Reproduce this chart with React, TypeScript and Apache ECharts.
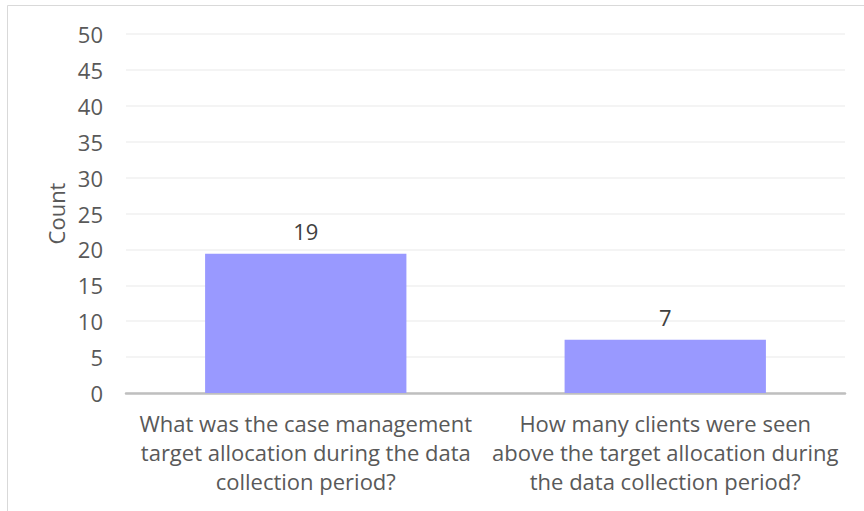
import React, { useEffect, useRef } from "react";
import * as echarts from "echarts";

const categories = [
  "What was the case management\ntarget allocation during the data\ncollection period?",
  "How many clients were seen\nabove the target allocation during\nthe data collection period?",
];
const counts = [19.4, 7.4];
const yTicks = { min: 0, max: 50, interval: 5 };
const axisTitle = "Count";

const FONT = "'Open Sans', 'Noto Sans', sans-serif";
const TEXT = "#595959";

export default function App() {
  const ref = useRef<HTMLDivElement>(null);
  useEffect(() => {
    if (!ref.current) return;
    const chart = echarts.init(ref.current, undefined, { renderer: "svg" });
    chart.setOption({
      animation: false,
      textStyle: { fontFamily: FONT },
      graphic: [
        {
          type: "rect",
          shape: { x: 7.5, y: 5.5, width: 900, height: 600 },
          style: { fill: "none", stroke: "#d9d9d9", lineWidth: 1 },
          silent: true,
        },
      ],
      grid: { left: 126, right: 19, top: 34, bottom: 118 },
      xAxis: {
        type: "category",
        data: categories,
        axisTick: { show: false },
        axisLine: { lineStyle: { color: "#bfbfbf", width: 2.5 } },
        axisLabel: {
          color: TEXT,
          fontSize: 22,
          lineHeight: 28.7,
          margin: 16,
          interval: 0,
          fontFamily: FONT,
        },
      },
      yAxis: {
        type: "value",
        min: yTicks.min,
        max: yTicks.max,
        interval: yTicks.interval,
        name: axisTitle,
        nameLocation: "middle",
        nameGap: 57,
        nameTextStyle: { color: TEXT, fontSize: 22, fontFamily: FONT },
        axisLine: { show: false },
        axisTick: { show: false },
        axisLabel: { color: TEXT, fontSize: 22, margin: 23, fontFamily: FONT },
        splitLine: { lineStyle: { color: "#f0f0f0", width: 1.5 } },
      },
      series: [
        {
          type: "bar",
          data: counts,
          barWidth: "56%",
          itemStyle: { color: "#9999ff" },
          label: {
            show: true,
            position: "top",
            distance: 12,
            color: "#404040",
            fontSize: 22,
            fontFamily: FONT,
            formatter: (p: any) => String(Math.round(p.value)),
          },
        },
      ],
    });
    return () => chart.dispose();
  }, []);
  return (
    <div
      ref={ref}
      style={{ position: "fixed", left: 0, top: 0, width: 864, height: 511, background: "#fff" }}
    />
  );
}
